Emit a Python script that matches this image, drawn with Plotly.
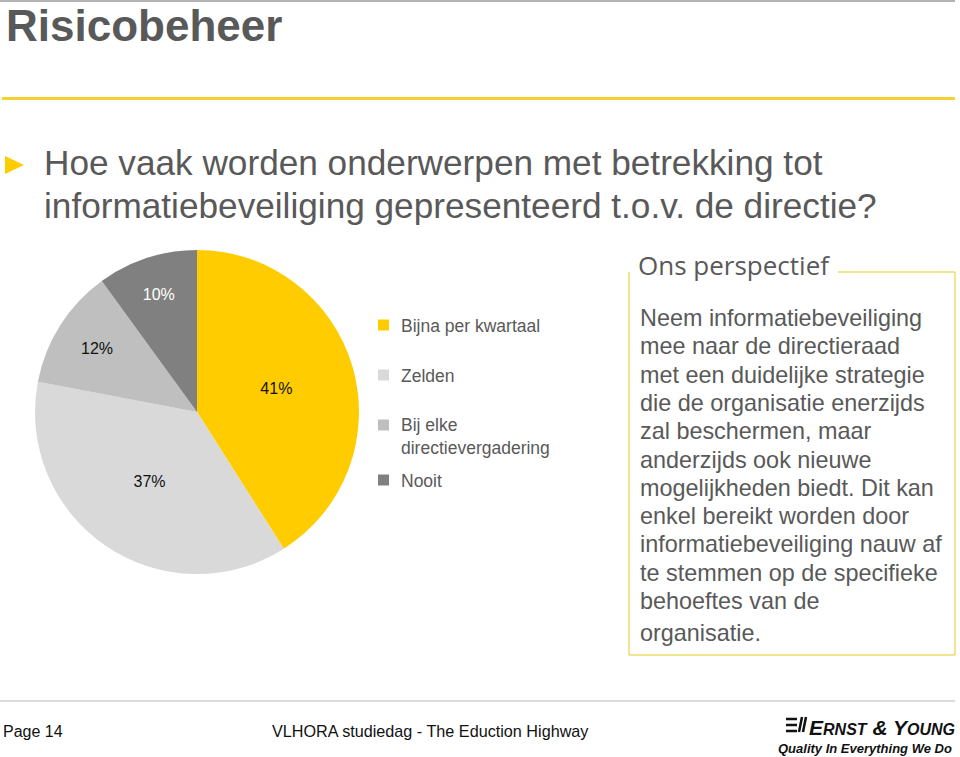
import plotly.graph_objects as go

W, H = 960, 757

# ---- data ----
categories = ["Bijna per kwartaal", "Zelden", "Bij elke directievergadering", "Nooit"]
legend_labels = ["Bijna per kwartaal", "Zelden", "Bij elke<br>directievergadering", "Nooit"]
values = [41, 37, 12, 10]
colors = ["#FFCC00", "#D9D9D9", "#BFBFBF", "#808080"]
text_colors = ["#111111", "#111111", "#111111", "#FFFFFF"]

title = "Risicobeheer"
question = ["Hoe vaak worden onderwerpen met betrekking tot",
            "informatiebeveiliging gepresenteerd t.o.v. de directie?"]
box_title = "Ons perspectief"
box_lines = ["Neem informatiebeveiliging", "mee naar de directieraad",
             "met een duidelijke strategie", "die de organisatie enerzijds",
             "zal beschermen, maar", "anderzijds ook nieuwe",
             "mogelijkheden biedt. Dit kan", "enkel bereikt worden door",
             "informatiebeveiliging nauw af", "te stemmen op de specifieke",
             "behoeftes van de", "organisatie."]
footer_page = "Page 14"
footer_event = "VLHORA studiedag - The Eduction Highway"

GREY = "#595959"
FONT = "Liberation Sans, Arial, sans-serif"


def px(x):
    return x / W


def py(y):
    return 1 - y / H


fig = go.Figure()
fig.add_trace(go.Pie(
    labels=categories, values=values, sort=False, direction="clockwise", rotation=0,
    marker=dict(colors=colors, line=dict(width=0)),
    texttemplate="%{value}%", textposition="inside", insidetextorientation="horizontal",
    textfont=dict(family=FONT, size=16, color=text_colors),
    domain=dict(x=[px(35), px(359)], y=[py(574), py(250)]),
    showlegend=False, hoverinfo="label+percent"))

ann = []
shapes = []

# header
ann.append(dict(x=px(4), y=py(25), text=f"<b>{title}</b>", xanchor="left", yanchor="middle",
                showarrow=False, font=dict(family=FONT, size=44, color=GREY)))
shapes.append(dict(type="line", x0=px(0), x1=px(955), y0=py(1), y1=py(1),
                   line=dict(color="#9a9a9a", width=1.5)))
shapes.append(dict(type="line", x0=px(2), x1=px(955), y0=py(98.5), y1=py(98.5),
                   line=dict(color="#F5D133", width=3)))

# question bullet (triangle)
shapes.append(dict(type="path",
                   path=f"M {px(5)},{py(156)} L {px(24)},{py(165)} L {px(5)},{py(174)} Z",
                   fillcolor="#FFCC00", line=dict(width=0)))
for i, line in enumerate(question):
    ann.append(dict(x=px(42), y=py(163 + i * 43), text=line, xanchor="left", yanchor="middle",
                    showarrow=False, font=dict(family=FONT, size=35.2, color=GREY)))

# custom legend
leg_y = [325, 375, 425, 480]
for lab, col, yy in zip(legend_labels, colors, leg_y):
    shapes.append(dict(type="rect", x0=px(378), x1=px(389), y0=py(yy - 5.5), y1=py(yy + 5.5),
                       fillcolor=col, line=dict(width=0)))
    ann.append(dict(x=px(399), y=py(yy - 11.5), text=lab, xanchor="left", yanchor="top",
                    align="left", showarrow=False,
                    font=dict(family=FONT, size=17.5, color=GREY)))

# perspective box
bc = "#EEDC6A"
shapes += [
    dict(type="line", x0=px(629), x1=px(629), y0=py(272), y1=py(655), line=dict(color=bc, width=1.5)),
    dict(type="line", x0=px(629), x1=px(955), y0=py(655), y1=py(655), line=dict(color=bc, width=1.5)),
    dict(type="line", x0=px(955), x1=px(955), y0=py(272), y1=py(655), line=dict(color=bc, width=1.5)),
    dict(type="line", x0=px(838), x1=px(955), y0=py(272), y1=py(272), line=dict(color=bc, width=1.5)),
]
ann.append(dict(x=px(636), y=py(265), text=box_title, xanchor="left", yanchor="middle",
                showarrow=False, font=dict(family="Open Sans, sans-serif", size=26, color=GREY)))
for i, line in enumerate(box_lines):
    yy = 318 + i * 28.3 + (4 if i == len(box_lines) - 1 else 0)
    ann.append(dict(x=px(638), y=py(yy), text=line, xanchor="left", yanchor="middle",
                    showarrow=False, font=dict(family=FONT, size=23.4, color=GREY)))

# footer
shapes.append(dict(type="line", x0=px(0), x1=px(955), y0=py(701), y1=py(701),
                   line=dict(color="#d0d0d0", width=1.5)))
ann.append(dict(x=px(1), y=py(731), text=footer_page, xanchor="left", yanchor="middle",
                showarrow=False, font=dict(family=FONT, size=16, color="#111111")))
ann.append(dict(x=px(270), y=py(731), text=footer_event, xanchor="left", yanchor="middle",
                showarrow=False, font=dict(family=FONT, size=16.2, color="#111111")))

# logo
for k in range(3):
    shapes.append(dict(type="line", x0=px(786), x1=px(797), y0=py(719 + k * 6), y1=py(719 + k * 6),
                       line=dict(color="#111", width=2.5)))
shapes.append(dict(type="line", x0=px(799), x1=px(802), y0=py(732), y1=py(717),
                   line=dict(color="#111", width=2.5)))
shapes.append(dict(type="line", x0=px(803), x1=px(806), y0=py(732), y1=py(717),
                   line=dict(color="#111", width=2.5)))
ann.append(dict(x=px(807), y=py(727),
                text="<b><i>E<span style='font-size:16px'>RNST</span> &amp; Y<span style='font-size:16px'>OUNG</span></i></b>",
                xanchor="left", yanchor="middle", showarrow=False,
                font=dict(family="Liberation Sans, sans-serif", size=21, color="#111111")))
ann.append(dict(x=px(954), y=py(748), text="<b><i>Quality In Everything We Do</i></b>",
                xanchor="right", yanchor="middle", showarrow=False,
                font=dict(family="Liberation Sans Narrow, Liberation Sans, sans-serif", size=13, color="#111111")))

fig.update_layout(width=W, height=H, margin=dict(l=0, r=0, t=0, b=0),
                  paper_bgcolor="white", plot_bgcolor="white",
                  annotations=ann, shapes=shapes, showlegend=False)
fig.write_html("out.html", config={"displayModeBar": False},
               post_script="document.body.style.margin='0';document.body.style.overflow='hidden';")
